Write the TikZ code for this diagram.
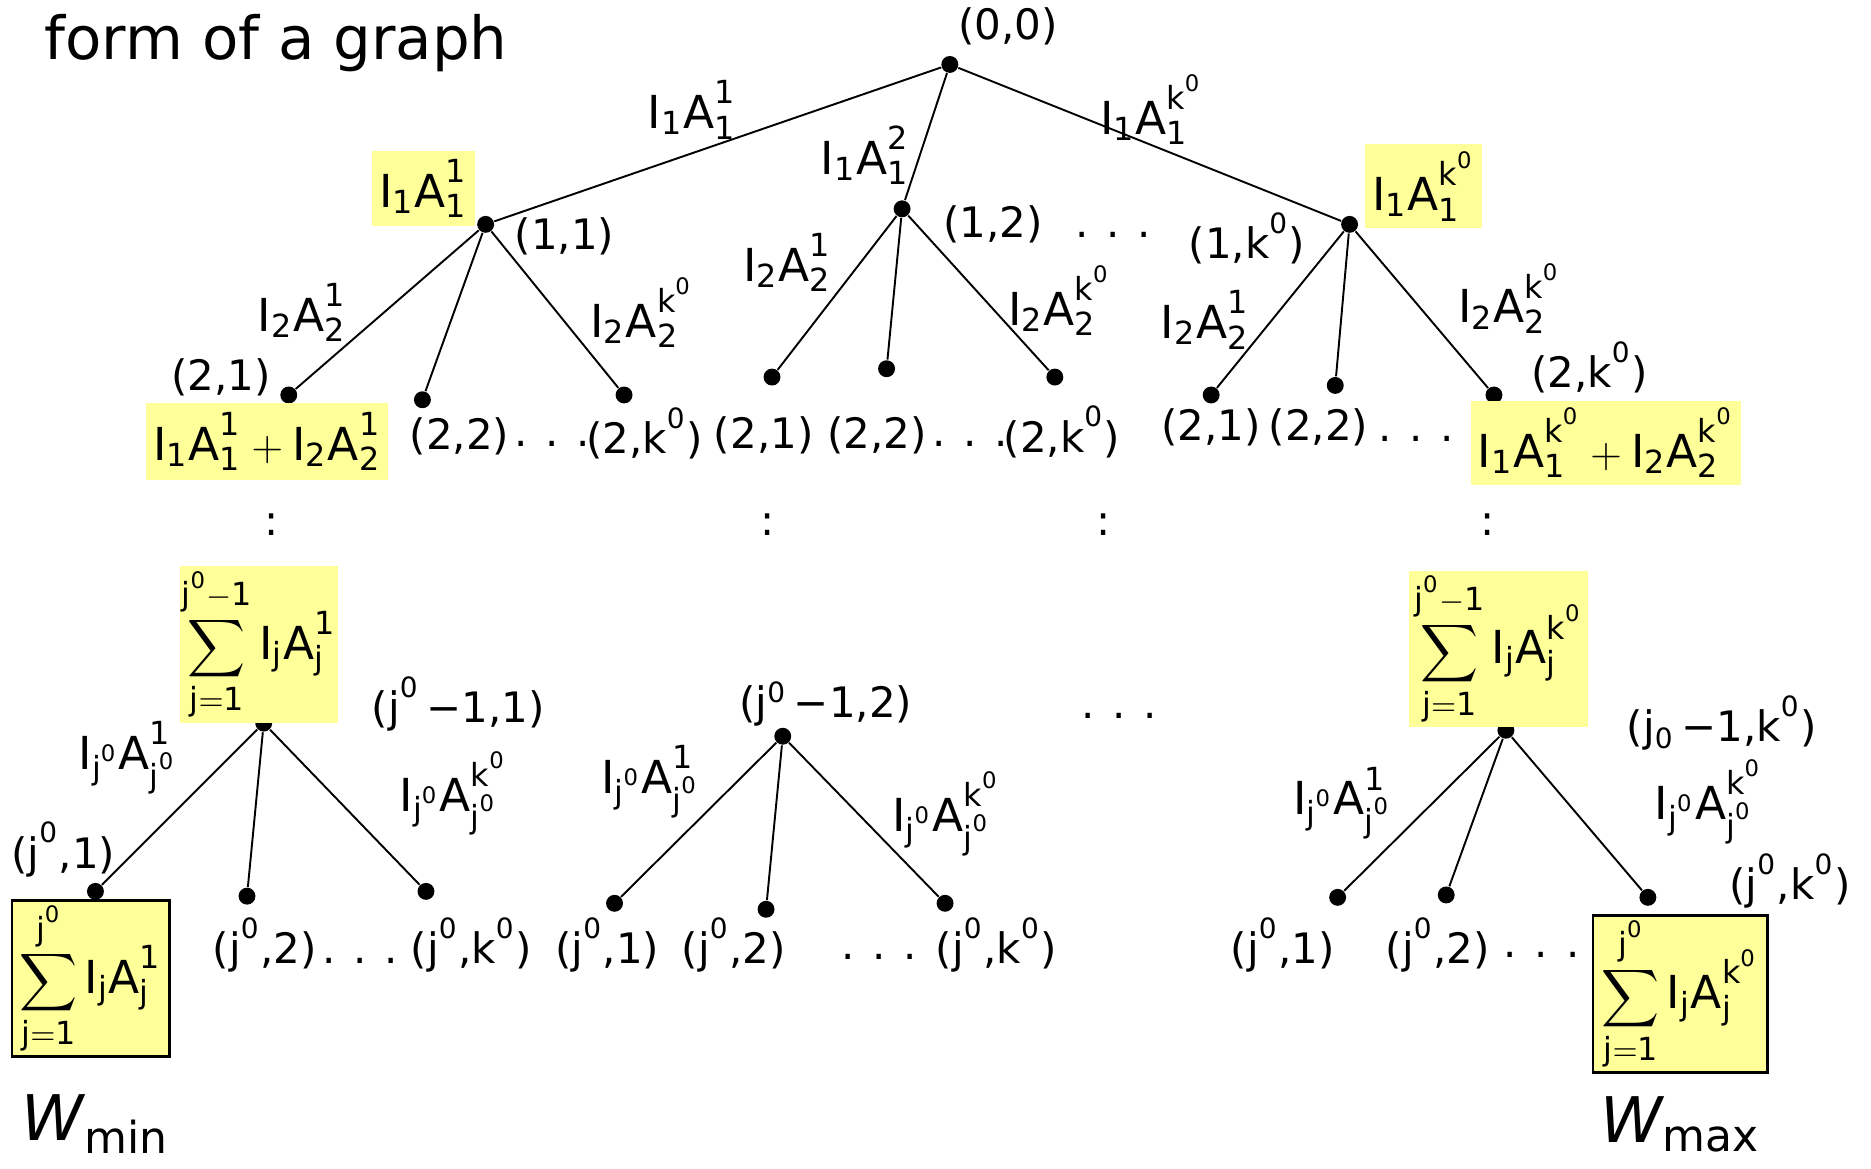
\documentclass[tikz,border=0pt]{standalone}
\usepackage{graphicx}
\usepackage{fontspec}
\setmainfont{DejaVu Sans}
\usetikzlibrary{positioning}
\definecolor{highlight}{HTML}{FFFF99}

\newcommand{\wt}[2]{$\mathrm{I_{#1}A_{#1}^{#2}}$}
\newcommand{\sigmabig}{\mathop{\vcenter{\hbox{\scalebox{1.15}{$\displaystyle\sum$}}}}\limits}
\newcommand{\sumwt}[2]{$\displaystyle\sigmabig_{\mathrm{j=1}}^{\mathrm{#1}}\mathrm{I_jA_j^{#2}}$}

\begin{document}
\begin{tikzpicture}[x=0.012cm, y=-0.012cm,
    vertex/.style={circle, fill, inner sep=0pt, minimum size=0.17cm},
    coordlab/.style={font=\fontsize{12}{14}\selectfont, inner sep=1pt},
    wlab/.style={font=\fontsize{13}{15}\selectfont, inner sep=1pt},
    hlbox/.style={fill=highlight, font=\fontsize{13}{15}\selectfont, inner sep=2pt},
    sumbox/.style={hlbox, inner sep=0.5pt},
    endbox/.style={sumbox, draw, line width=0.8pt},
    edge/.style={line width=0.55pt}]
    \useasboundingbox (0,0) rectangle (1568,979);

    % Titel
    \node[font=\fontsize{17}{20}\selectfont, anchor=base west] (title) at (27,50) {form of a graph};

    % Wurzel
    \node[vertex] (n00) at (796,54) {};
    \node[coordlab] (l00) at (845,22) {(0,0)};

    % Stufe 1
    \node[vertex] (n11) at (407,188) {};
    \node[vertex] (n12) at (756,175) {};
    \node[vertex] (n1k) at (1131,188) {};
    \draw[edge] (n00) -- (n11);
    \draw[edge] (n00) -- (n12);
    \draw[edge] (n00) -- (n1k);
    \node[wlab] (e11) at (580,92) {\wt{1}{1}};
    \node[wlab] (e12) at (725,130) {\wt{1}{2}};
    \node[wlab] (e1k) at (965,92) {\wt{1}{k^0}};
    \node[hlbox, minimum width=0.96cm, minimum height=0.76cm] (b11) at (355,158) {\wt{1}{1}};
    \node[hlbox, minimum width=1.14cm, minimum height=0.82cm] (b1k) at (1193,156) {\wt{1}{k^0}};
    \node[coordlab] (l11) at (473,198) {(1,1)};
    \node[coordlab] (l12) at (832,188) {(1,2)};
    \node[coordlab] (l1d) at (933,197) {. . .};
    \node[coordlab] (l1k) at (1045,200) {(1,k\textsuperscript{0})};

    % Stufe 2, links
    \node[vertex] (n21a) at (242,331) {};
    \node[vertex] (n22a) at (354,335) {};
    \node[vertex] (n2ka) at (523,331) {};
    \draw[edge] (n11) -- (n21a);
    \draw[edge] (n11) -- (n22a);
    \draw[edge] (n11) -- (n2ka);
    \node[wlab] (e21a) at (253,262) {\wt{2}{1}};
    \node[wlab] (e2ka) at (538,262) {\wt{2}{k^0}};
    \node[coordlab] (l21a) at (185,316) {(2,1)};
    \node[hlbox, minimum width=2.33cm, minimum height=0.78cm] (b21) at (224,370) {$\mathrm{I_1A_1^1+I_2A_2^1}$};
    \node[coordlab] (l22a) at (385,366) {(2,2)};
    \node[coordlab] (l2da) at (463,372) {. . .};
    \node[coordlab] (l2ka) at (540,363) {(2,k\textsuperscript{0})};

    % Stufe 2, Mitte
    \node[vertex] (n21b) at (647,316) {};
    \node[vertex] (n22b) at (743,309) {};
    \node[vertex] (n2kb) at (884,316) {};
    \draw[edge] (n12) -- (n21b);
    \draw[edge] (n12) -- (n22b);
    \draw[edge] (n12) -- (n2kb);
    \node[wlab] (e21b) at (660,220) {\wt{2}{1}};
    \node[wlab] (e2kb) at (888,252) {\wt{2}{k^0}};
    \node[coordlab] (l21b) at (640,365) {(2,1)};
    \node[coordlab] (l22b) at (735,365) {(2,2)};
    \node[coordlab] (l2db) at (813,372) {. . .};
    \node[coordlab] (l2kb) at (890,362) {(2,k\textsuperscript{0})};

    % Stufe 2, rechts
    \node[vertex] (n21c) at (1015,331) {};
    \node[vertex] (n22c) at (1119,323) {};
    \node[vertex] (n2kc) at (1252,331) {};
    \draw[edge] (n1k) -- (n21c);
    \draw[edge] (n1k) -- (n22c);
    \draw[edge] (n1k) -- (n2kc);
    \node[wlab] (e21c) at (1010,268) {\wt{2}{1}};
    \node[wlab] (e2kc) at (1265,250) {\wt{2}{k^0}};
    \node[coordlab] (l21c) at (1015,358) {(2,1)};
    \node[coordlab] (l22c) at (1105,358) {(2,2)};
    \node[coordlab] (l2dc) at (1187,368) {. . .};
    \node[coordlab] (l2kc) at (1332,308) {(2,k\textsuperscript{0})};
    \node[hlbox, minimum width=2.65cm, minimum height=0.82cm] (b2k) at (1346,371) {$\mathrm{I_1A_1^{k^0}+I_2A_2^{k^0}}$};

    % Auslassung
    \foreach \x [count=\i] in {228,643,925,1247}
        \node[coordlab] (vd\i) at (\x,440) {:};

    % Stufe j0-1, links
    \node[vertex] (nj1) at (221,606) {};
    \node[sumbox, minimum width=1.57cm, minimum height=1.54cm] (bj1) at (217,540) {\sumwt{j^0-1}{1}};
    \node[coordlab] (lj1) at (384,590) {(j\textsuperscript{0}\,−1,1)};
    \node[vertex] (nf1a) at (80,747) {};
    \node[vertex] (nf2a) at (207,751) {};
    \node[vertex] (nfka) at (357,747) {};
    \draw[edge] (nj1) -- (nf1a);
    \draw[edge] (nj1) -- (nf2a);
    \draw[edge] (nj1) -- (nfka);
    \node[wlab] (ef1a) at (107,635) {\wt{j^0}{1}};
    \node[wlab] (efka) at (380,665) {\wt{j^0}{k^0}};
    \node[coordlab] (lf1a) at (53,712) {(j\textsuperscript{0},1)};
    \node[endbox, minimum width=1.58cm, minimum height=1.57cm] (bmin) at (76,820) {\sumwt{j^0}{1}};
    \node[coordlab] (lf2a) at (222,792) {(j\textsuperscript{0},2)};
    \node[coordlab] (lfda) at (302,805) {. . .};
    \node[coordlab] (lfka) at (395,792) {(j\textsuperscript{0},k\textsuperscript{0})};
    \node[font=\fontsize{18}{22}\selectfont] (wmin) at (80,942) {$\mathit{W}_{\mathrm{min}}$};

    % Stufe j0-1, Mitte
    \node[vertex] (nj2) at (656,617) {};
    \node[coordlab] (lj2) at (692,590) {(j\textsuperscript{0}\,−1,2)};
    \node[vertex] (nf1b) at (515,757) {};
    \node[vertex] (nf2b) at (642,762) {};
    \node[vertex] (nfkb) at (792,757) {};
    \draw[edge] (nj2) -- (nf1b);
    \draw[edge] (nj2) -- (nf2b);
    \draw[edge] (nj2) -- (nfkb);
    \node[wlab] (ef1b) at (545,655) {\wt{j^0}{1}};
    \node[wlab] (efkb) at (793,682) {\wt{j^0}{k^0}};
    \node[coordlab] (lf1b) at (509,792) {(j\textsuperscript{0},1)};
    \node[coordlab] (lf2b) at (615,792) {(j\textsuperscript{0},2)};
    \node[coordlab] (lfdb) at (737,802) {. . .};
    \node[coordlab] (lfkb) at (835,792) {(j\textsuperscript{0},k\textsuperscript{0})};
    \node[coordlab] (ljd) at (938,600) {. . .};

    % Stufe j0-1, rechts
    \node[vertex] (njk) at (1262,612) {};
    \node[sumbox, minimum width=1.8cm, minimum height=1.54cm] (bjk) at (1256,544) {\sumwt{j^0-1}{k^0}};
    \node[coordlab] (ljk) at (1443,606) {(j\textsubscript{0}\,−1,k\textsuperscript{0})};
    \node[vertex] (nf1c) at (1121,752) {};
    \node[vertex] (nf2c) at (1212,750) {};
    \node[vertex] (nfkc) at (1381,752) {};
    \draw[edge] (njk) -- (nf1c);
    \draw[edge] (njk) -- (nf2c);
    \draw[edge] (njk) -- (nfkc);
    \node[wlab] (ef1c) at (1125,673) {\wt{j^0}{1}};
    \node[wlab] (efkc) at (1432,672) {\wt{j^0}{k^0}};
    \node[coordlab] (lfkc) at (1500,738) {(j\textsuperscript{0},k\textsuperscript{0})};
    \node[coordlab] (lf1c) at (1075,792) {(j\textsuperscript{0},1)};
    \node[coordlab] (lf2c) at (1205,792) {(j\textsuperscript{0},2)};
    \node[coordlab] (lfdc) at (1292,800) {. . .};
    \node[endbox, minimum width=1.75cm, minimum height=1.57cm] (bmax) at (1408,833) {\sumwt{j^0}{k^0}};
    \node[font=\fontsize{18}{22}\selectfont] (wmax) at (1408,942) {$\mathit{W}_{\mathrm{max}}$};
\end{tikzpicture}
\end{document}
